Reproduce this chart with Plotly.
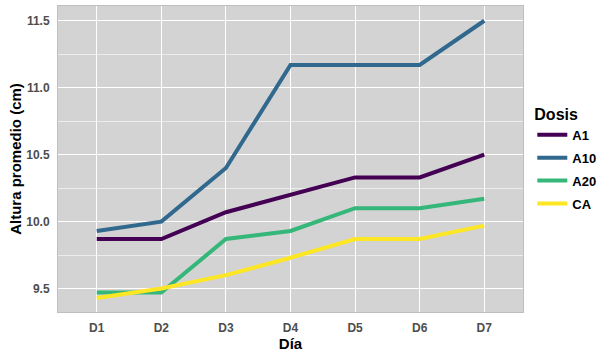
import plotly.graph_objects as go

dias = ["D1", "D2", "D3", "D4", "D5", "D6", "D7"]
a1 = [9.87, 9.87, 10.07, 10.2, 10.33, 10.33, 10.5]
a10 = [9.93, 10.0, 10.4, 11.17, 11.17, 11.17, 11.5]
a20 = [9.47, 9.47, 9.87, 9.93, 10.1, 10.1, 10.17]
ca = [9.43, 9.5, 9.6, 9.73, 9.87, 9.87, 9.97]

series = [("A1", a1, "#440154"), ("A10", a10, "#31688E"),
          ("A20", a20, "#35B779"), ("CA", ca, "#FDE725")]

fig = go.Figure()
for name, vals, col in series:
    fig.add_trace(go.Scatter(x=dias, y=vals, mode="lines", name=f"<b>{name}</b>",
                             legendgroup=name,
                             line=dict(color=col, width=4)))

font = "Liberation Sans, Arial, sans-serif"
fig.update_layout(
    width=612, height=359,
    margin=dict(l=58, r=89, t=6, b=47),
    paper_bgcolor="white", plot_bgcolor="#D3D3D3",
    font=dict(family=font),
    showlegend=True,
    legend=dict(
        title=dict(text="<b>Dosis</b>", font=dict(size=16, color="black")),
        font=dict(size=13, color="black"),
        x=1.02, xanchor="left", y=0.5, yanchor="middle",
        itemwidth=30, tracegroupgap=3,
        bgcolor="rgba(0,0,0,0)",
    ),
    xaxis=dict(
        range=[-0.6, 6.6], showgrid=True, gridcolor="white", gridwidth=1,
        ticks="outside", ticklen=5, tickcolor="rgba(0,0,0,0)",
        tickfont=dict(size=12, color="#4D4D4D"),
        title=dict(text="<b>Día</b>", font=dict(size=15, color="black"), standoff=2),
        showline=True, linecolor="#BFBFBF", mirror=True, zeroline=False,
        automargin=False,
    ),
    yaxis=dict(
        range=[9.325, 11.61], tickvals=[9.5, 10.0, 10.5, 11.0, 11.5],
        ticktext=["<b>9.5</b>", "<b>10.0</b>", "<b>10.5</b>", "<b>11.0</b>", "<b>11.5</b>"],
        showgrid=True, gridcolor="white", gridwidth=1,
        minor=dict(showgrid=True, gridcolor="#EDEDED", gridwidth=0.6, dtick=0.25, tick0=9.25),
        ticks="outside", ticklen=5, tickcolor="rgba(0,0,0,0)",
        tickfont=dict(size=12, color="#4D4D4D"),
        title=dict(text="<b>Altura promedio (cm)</b>", font=dict(size=15, color="black"), standoff=0),
        showline=True, linecolor="#BFBFBF", mirror=True, zeroline=False,
        automargin=False,
    ),
)
fig.update_xaxes(ticktext=[f"<b>{d}</b>" for d in dias], tickvals=dias)
fig.write_html("out.html", config={"displayModeBar": False},
               post_script="document.body.style.margin='0px';")
